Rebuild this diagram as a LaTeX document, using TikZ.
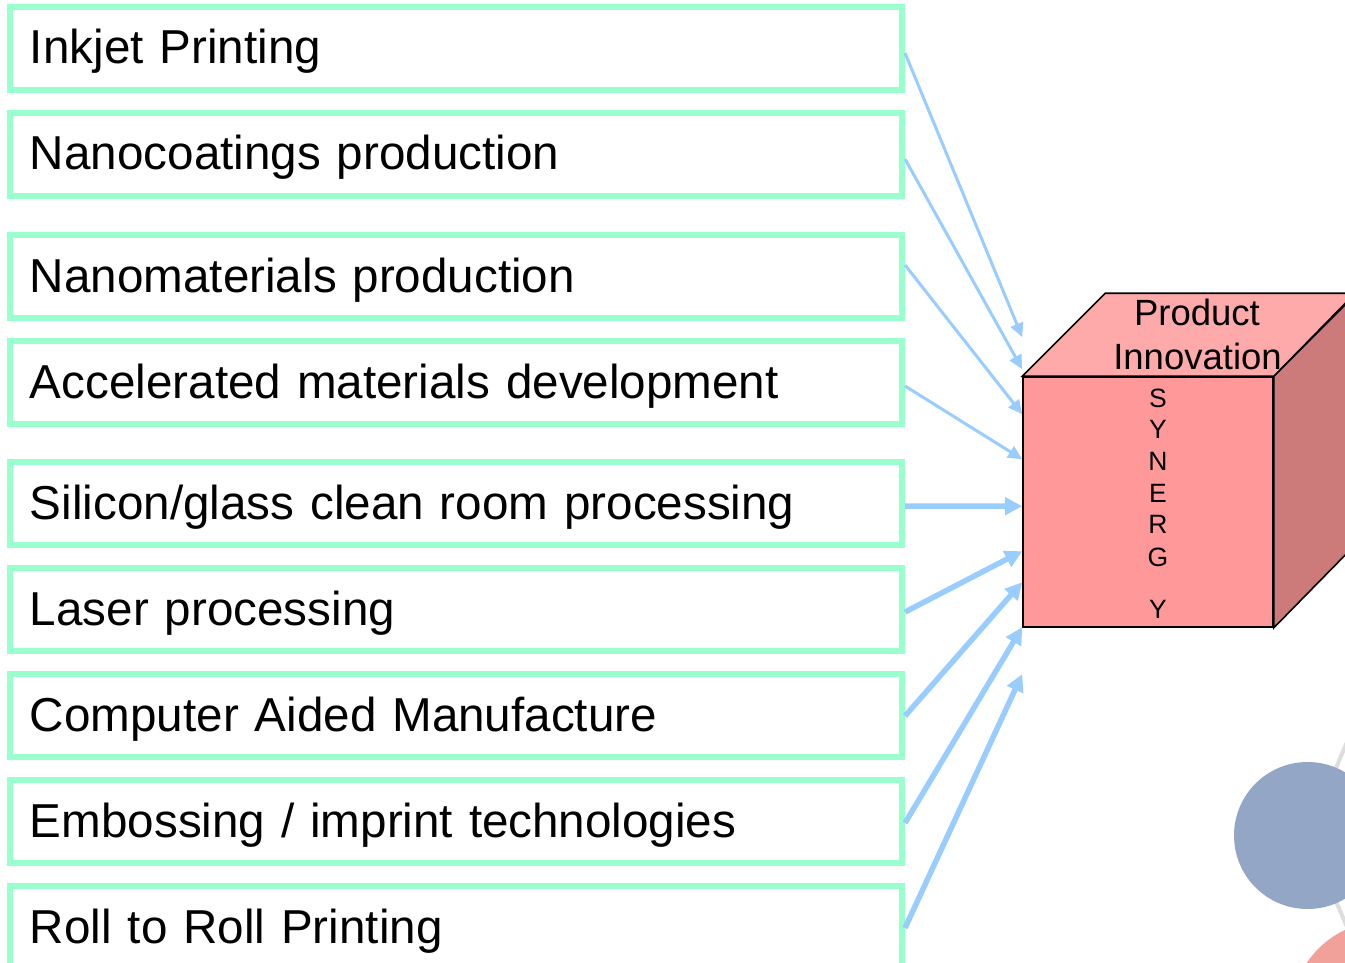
\documentclass[tikz,border=0pt]{standalone}
\usepackage{fontspec}
\setmainfont{Liberation Sans}
\usetikzlibrary{arrows.meta,calc}
\definecolor{mint}{HTML}{99FFCC}
\definecolor{arrblue}{HTML}{99CCFF}
\definecolor{cubefront}{HTML}{FF9999}
\definecolor{cubetop}{HTML}{FFAAAA}
\definecolor{cuberight}{HTML}{CC7A7A}
\definecolor{ballblue}{HTML}{94A6C6}
\definecolor{ballpink}{HTML}{F2A19A}
\definecolor{linkgrey}{HTML}{DDDDDD}
\begin{document}
\begin{tikzpicture}[x=1pt,y=-1pt,
  techbox/.style={draw=mint, line width=6pt, fill=white, minimum width=892pt,
    minimum height=83pt, text width=852pt, inner xsep=20pt, inner ysep=0pt,
    align=left, text height=34pt, text depth=3pt,
    font=\fontsize{47.6}{57}\selectfont},
  thinarr/.style={draw=arrblue, line width=3pt,
    -{Triangle[length=14pt,width=13pt]}},
  thickarr/.style={draw=arrblue, line width=5.5pt,
    -{Triangle[length=17pt,width=17pt]}},
  cubeline/.style={draw=black, line width=1.6pt, line join=miter},
  toptext/.style={anchor=base, font=\fontsize{36.5}{44}\selectfont, inner sep=0pt},
  syntext/.style={anchor=base, font=\fontsize{26.5}{30}\selectfont, inner sep=0pt}]
\useasboundingbox (0,0) rectangle (1345,963);
\clip (0,0) rectangle (1345,963);

% decorative circles
\coordinate (gtop) at (1407,600);
\coordinate (c1) at (1307.5,835.5);
\coordinate (c2) at (1385,1015);
\draw[linkgrey, line width=4pt] (gtop) -- (c1) -- (c2);
\node[circle, fill=ballblue, minimum size=147pt, inner sep=0pt] (ball1) at (c1) {};
\node[circle, fill=ballpink, minimum size=188pt, inner sep=0pt] (ball2) at (c2) {};

% boxes
\node[techbox] (b1) at (456,48.5) {Inkjet Printing};
\node[techbox] (b2) at (456,154.5) {Nanocoatings production};
\node[techbox] (b3) at (456,276.5) {Nanomaterials production};
\node[techbox] (b4) at (456,382.5) {Accelerated materials development};
\node[techbox] (b5) at (456,503.5) {Silicon/glass clean room processing};
\node[techbox] (b6) at (456,609.5) {Laser processing};
\node[techbox] (b7) at (456,715.5) {Computer Aided Manufacture};
\node[techbox] (b8) at (456,821.5) {Embossing / imprint technologies};
\node[techbox] (b9) at (456,927.5) {Roll to Roll Printing};

% cube
\node[cubeline, fill=cubefront, minimum width=250pt, minimum height=250pt,
  inner sep=0pt] (front) at (1148,502) {};
\draw[cubeline, fill=cuberight] (front.north east) -- ++(83,-83) -- ++(0,250)
  -- (front.south east) -- cycle;
\draw[cubeline, fill=cubetop] (front.north west) -- ++(83,-83) -- ++(250,0)
  -- (front.north east) -- cycle;
\node[toptext] (prod) at (1197,325) {Product};
\node[toptext] (innov) at (1197.5,369) {Innovation};
\foreach \l/\yy/\nm in {S/407/s1, Y/438/s2, N/470/s3, E/502/s4, R/533/s5, G/566/s6, Y/618/s7}
  \node[syntext] (\nm) at (1158,\yy) {\l};

% arrows
\draw[thinarr] ([yshift=-4.5pt]b1.east) -- ([yshift=39pt]front.north west);
\draw[thinarr] ([yshift=-4.5pt]b2.east) -- ([yshift=7pt]front.north west);
\draw[thinarr] ([yshift=11.5pt]b3.east) -- ([yshift=-38pt]front.north west);
\draw[thinarr] ([yshift=-3.5pt]b4.east) -- ([yshift=-83pt]front.north west);
\draw[thickarr] ([yshift=-2.5pt]b5.east) -- ([yshift=-130pt]front.north west);
\draw[thickarr] ([yshift=-2.5pt]b6.east) -- ([yshift=-175pt]front.north west);
\draw[thickarr] ([yshift=-0.5pt]b7.east) -- ([yshift=-206pt]front.north west);
\draw[thickarr] ([yshift=-1.5pt]b8.east) -- ([yshift=-251pt]front.north west);
\draw[thickarr] ([yshift=-0.5pt]b9.east) -- ([yshift=-298pt]front.north west);
\end{tikzpicture}
\end{document}
